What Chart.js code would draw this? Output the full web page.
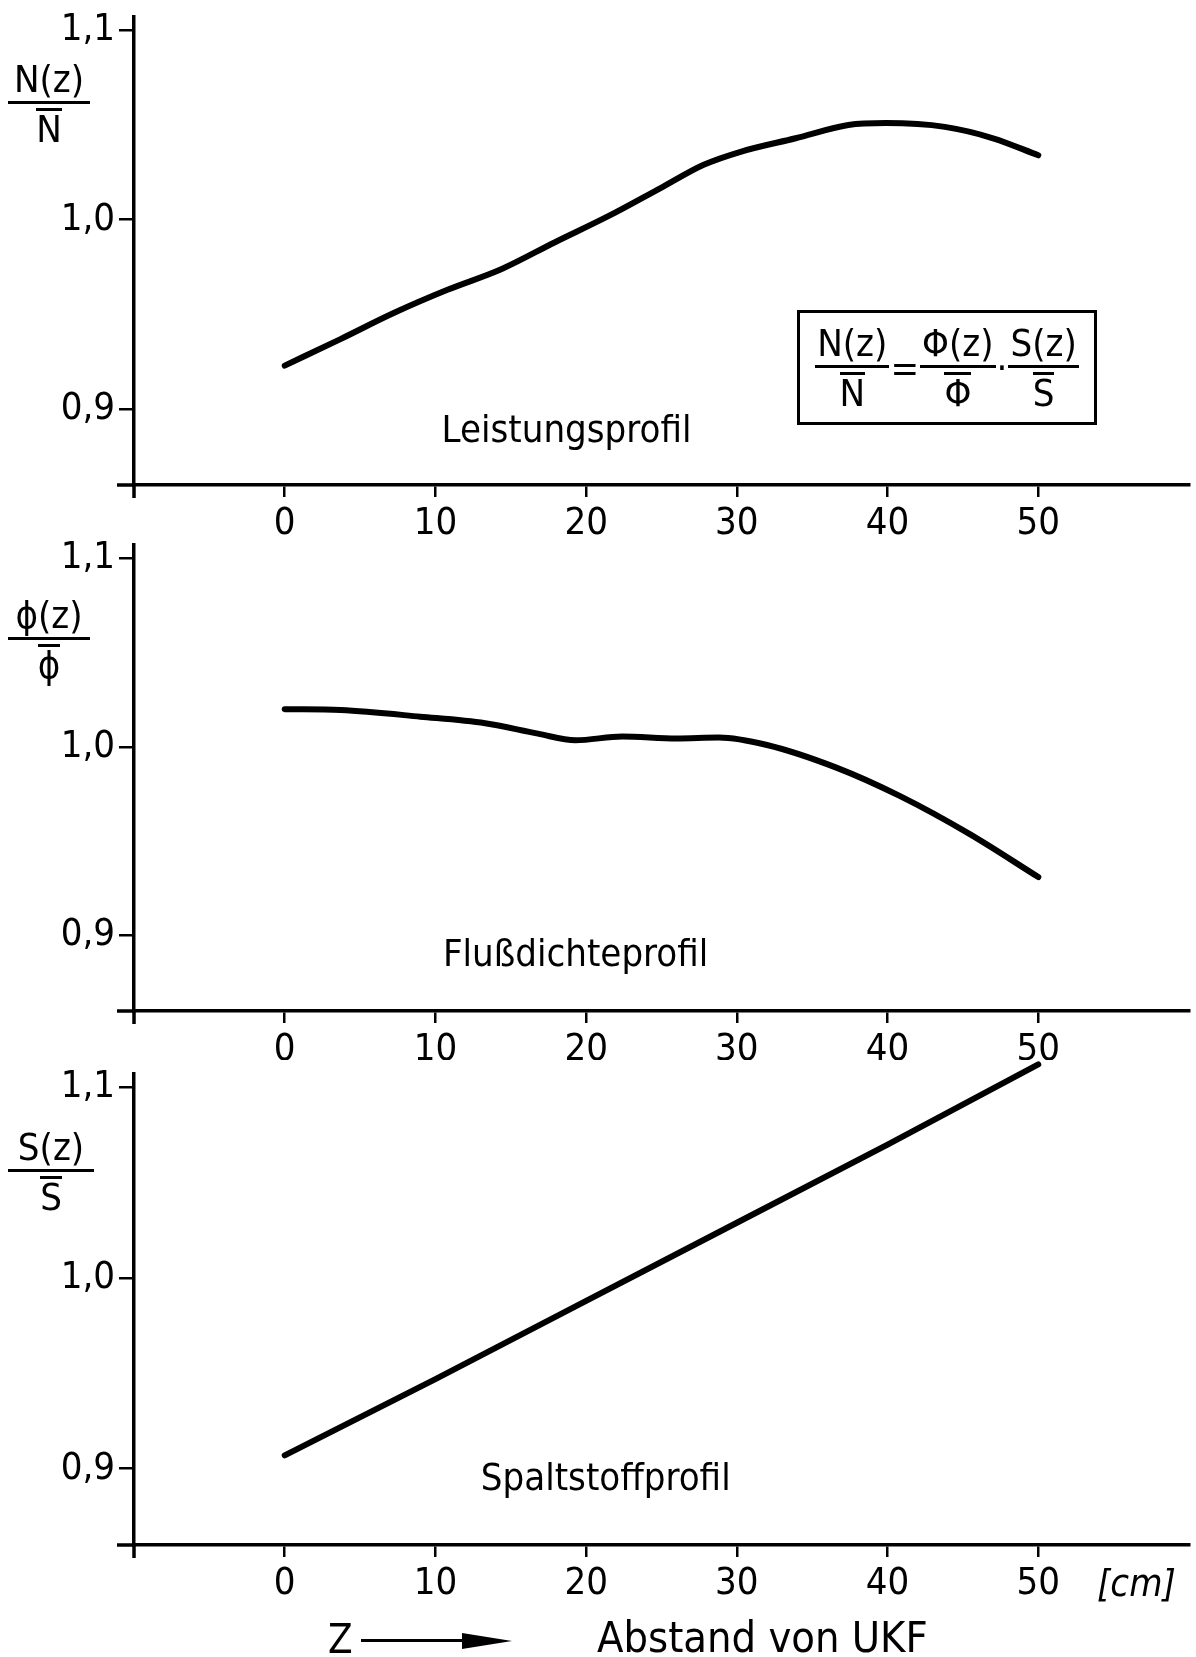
<!DOCTYPE html>
<html>
<head>
<meta charset="utf-8">
<script src="https://cdn.jsdelivr.net/npm/chart.js@4.4.1/dist/chart.umd.min.js"></script>
<style>
  body { margin: 0; background: #fff; width: 1196px; height: 1657px; position: relative; overflow: hidden;
         font-family: 'Liberation Sans Narrow', 'DejaVu Sans Condensed', sans-serif; color: #000; }
  canvas { position: absolute; left: 0; }
  .frac { position: absolute; display: flex; flex-direction: column; align-items: center; font-size: 38px; line-height: 1; z-index: 2; }
  .frac .num { border-bottom: 3px solid #000; padding: 0 4px 3px 4px; align-self: stretch; text-align: center; }
  .frac .den { padding-top: 4px; }
  .bar { display: inline-block; border-top: 3px solid #000; padding-top: 1px; line-height: 0.9; }
  #formula { position: absolute; left: 797px; top: 310px; width: 294px; height: 109px; border: 3px solid #000;
             display: flex; align-items: center; justify-content: center; z-index: 2; }
  #formula .frac { position: static; font-size: 38px; }
  #formula .frac .num { padding: 0 2px 3px 2px; }
  #formula .op { margin: 0 1px; font-size: 38px; }
  .txt { position: absolute; z-index: 2; white-space: nowrap; }
</style>
</head>
<body>
<canvas id="p1" width="1196" height="545" style="top:0px"></canvas>
<canvas id="p2" width="1196" height="530" style="top:530px"></canvas>
<canvas id="p3" width="1196" height="597" style="top:1060px"></canvas>

<div class="frac" style="left:8px;top:60px;width:82px"><div class="num">N(z)</div><div class="den"><span class="bar">N</span></div></div>
<div class="frac" style="left:8px;top:596px;width:82px"><div class="num">ϕ(z)</div><div class="den"><span class="bar">ϕ</span></div></div>
<div class="frac" style="left:8px;top:1128px;width:86px"><div class="num">S(z)</div><div class="den"><span class="bar">S</span></div></div>

<div id="formula">
  <div class="frac"><div class="num">N(z)</div><div class="den"><span class="bar">N</span></div></div>
  <span class="op">=</span>
  <div class="frac"><div class="num">Φ(z)</div><div class="den"><span class="bar">Φ</span></div></div>
  <span class="op">·</span>
  <div class="frac"><div class="num">S(z)</div><div class="den"><span class="bar">S</span></div></div>
</div>

<div class="txt" style="left:1097px;top:1561px;font-size:38px;font-style:italic">[cm]</div>
<div class="txt" style="left:328px;top:1616px;font-size:40px">Z</div>
<div class="txt" style="left:361px;top:1639px;width:104px;border-top:3px solid #000"></div>
<div class="txt" style="left:462px;top:1633px;width:0;height:0;border-top:8px solid transparent;border-bottom:8px solid transparent;border-left:50px solid #000"></div>
<div class="txt" style="left:597px;top:1612px;font-size:43px">Abstand von UKF</div>

<script>
// values
var xTicks = [0, 10, 20, 30, 40, 50];
var yTicks = [0.9, 1.0, 1.1];

var zLeistung = [0, 3.7, 7.3, 10.8, 14.4, 17.9, 21.5, 25, 27.8, 30.3, 33.9, 37.4, 39.9, 43.8, 47, 50];
var nLeistung = [0.923, 0.937, 0.951, 0.963, 0.974, 0.988, 1.002, 1.017, 1.029, 1.036, 1.043, 1.050, 1.051, 1.049, 1.043, 1.034];

var zFluss = [0, 3.7, 9, 13.3, 16.8, 19.3, 22.4, 26, 28.8, 32, 36.6, 40.8, 45.4, 50];
var phiFluss = [1.020, 1.0195, 1.016, 1.0125, 1.007, 1.0035, 1.0055, 1.0045, 1.005, 1.001, 0.989, 0.974, 0.954, 0.931];

var zSpalt = [0, 10, 20, 30, 40, 50];
var sSpalt = [0.907, 0.947, 0.988, 1.029, 1.070, 1.112];

var tickFont = { family: "'Liberation Sans Narrow', 'DejaVu Sans Condensed', sans-serif", size: 38 };

// small overhang of the axes past their crossing point
var overhang = {
  id: 'overhang',
  afterDraw: function(chart) {
    var a = chart.chartArea;
    var c = chart.ctx;
    c.save();
    c.strokeStyle = '#000';
    c.lineWidth = 3.5;
    c.beginPath();
    c.moveTo(a.left, a.bottom);
    c.lineTo(a.left, a.bottom + 13);
    c.moveTo(a.left - 17, a.bottom);
    c.lineTo(a.left, a.bottom);
    c.stroke();
    c.restore();
  }
};

var panelText = {
  id: 'panelText',
  afterDraw: function(chart, args, opts) {
    var c = chart.ctx;
    c.save();
    c.fillStyle = '#000';
    c.font = "38px 'DejaVu Sans Condensed', sans-serif";
    c.textAlign = 'center';
    c.textBaseline = 'middle';
    c.fillText(opts.text, chart.scales.x.getPixelForValue(opts.x), chart.scales.y.getPixelForValue(opts.y));
    c.restore();
  }
};

function noPad(s) {
  s.paddingTop = 0;
  s.paddingBottom = 0;
  s.paddingLeft = 0;
  s.paddingRight = 0;
}

function makePanel(id, padTop, xHeight, zs, vs, tension, label) {
  var pts = [];
  for (var i = 0; i < zs.length; i++) {
    pts.push({ x: zs[i], y: vs[i] });
  }
  return new Chart(document.getElementById(id), {
    type: 'line',
    data: {
      datasets: [{
        data: pts,
        borderColor: '#000',
        borderWidth: 6,
        borderCapStyle: 'round',
        pointRadius: 0,
        tension: tension,
        cubicInterpolationMode: tension ? 'monotone' : 'default',
        fill: false,
        clip: false
      }]
    },
    options: {
      responsive: false,
      animation: false,
      events: [],
      layout: { padding: { top: padTop, right: 7, left: 0, bottom: 0 } },
      plugins: { legend: { display: false }, tooltip: { enabled: false }, panelText: label },
      scales: {
        x: {
          type: 'linear', min: -10, max: 60,
          afterBuildTicks: function(s) { s.ticks = xTicks.map(function(v) { return { value: v }; }); },
          afterFit: function(s) { s.height = xHeight; noPad(s); },
          grid: { drawOnChartArea: false, tickLength: 12, lineWidth: 2.5, color: '#000' },
          border: { color: '#000', width: 3.5 },
          ticks: { color: '#000', font: tickFont, padding: 4, maxRotation: 0, autoSkip: false,
                   callback: function(v) { return String(v); } }
        },
        y: {
          type: 'linear', min: 0.86, max: 1.107,
          afterBuildTicks: function(s) { s.ticks = yTicks.map(function(v) { return { value: v }; }); },
          afterFit: function(s) { s.width = 134; noPad(s); },
          grid: { drawOnChartArea: false, tickLength: 15, lineWidth: 2.5, color: '#000' },
          border: { color: '#000', width: 3.5 },
          ticks: { color: '#000', font: tickFont, padding: 4, autoSkip: false,
                   callback: function(v) { return v.toFixed(1).replace('.', ','); } }
        }
      }
    },
    plugins: [overhang, panelText]
  });
}

makePanel('p1', 17, 60, zLeistung, nLeistung, 0.4, { text: 'Leistungsprofil', x: 18.7, y: 0.888 });
makePanel('p2', 15, 49, zFluss, phiFluss, 0.4, { text: 'Flußdichteprofil', x: 19.3, y: 0.889 });
makePanel('p3', 14, 112, zSpalt, sSpalt, 0, { text: 'Spaltstoffprofil', x: 21.3, y: 0.894 });
</script>
</body>
</html>
